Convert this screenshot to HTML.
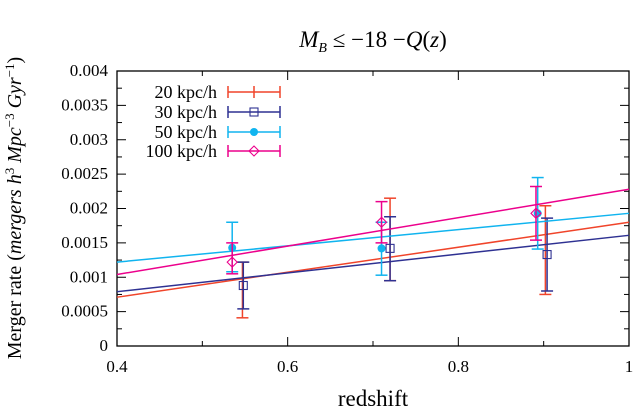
<!DOCTYPE html>
<html><head><meta charset="utf-8"><style>
body{margin:0;background:#fff}
svg{display:block;font-family:"Liberation Serif",serif}
</style></head><body>
<svg id="c" width="634" height="419"></svg>
<script>
const seriesNames=["20 kpc/h","30 kpc/h","50 kpc/h","100 kpc/h"];
const colors=["#f0442a","#2e3192","#10b4ef","#ec008c"];
const markers=["plus","square","circle","diamond"];
const zVals=[[0.547,0.72,0.902],[0.548,0.72,0.904],[0.535,0.71,0.893],[0.535,0.71,0.891]];
const rates=[[0.00081,0.00155,0.0014],[0.00088,0.00142,0.00133],[0.00143,0.00142,0.00193],[0.00122,0.0018,0.00193]];
const errLo=[[0.00041,0.00095,0.00075],[0.00054,0.00095,0.0008],[0.00108,0.00103,0.00141],[0.00105,0.0015,0.00154]];
const errHi=[[0.00122,0.00215,0.00204],[0.00122,0.00188,0.00186],[0.0018,0.0018,0.00245],[0.0015,0.0021,0.00232]];
const fitStart=[0.00071,0.00079,0.00122,0.00104];
const fitEnd=[0.0018,0.00161,0.00193,0.00228];
const xTicks=[0.4,0.6,0.8,1];
const yTicks=[0,0.0005,0.001,0.0015,0.002,0.0025,0.003,0.0035,0.004];
const yLabels=["0","0.0005","0.001","0.0015","0.002","0.0025","0.003","0.0035","0.004"];
const X0=117,X1=629,Y0=346,Y1=71;
const sx=v=>X0+(v-0.4)/0.6*(X1-X0);
const sy=v=>Y0-v/0.004*(Y0-Y1);
const svg=document.getElementById('c');
const NS="http://www.w3.org/2000/svg";
function mk(t,a,p){const e=document.createElementNS(NS,t);for(const k in a)e.setAttribute(k,a[k]);(p||svg).appendChild(e);return e;}
let f=mk('rect',{x:X0,y:Y1,width:X1-X0,height:Y0-Y1,fill:'none',stroke:'#000','stroke-width':1.3});


for(let v=0.4;v<=1.0001;v+=0.1){const x=sx(v);const L=Math.abs(v*10-Math.round(v*5)*2)<0.01?9:5;
mk('line',{x1:x,x2:x,y1:Y0,y2:Y0-L,stroke:'#000'});mk('line',{x1:x,x2:x,y1:Y1,y2:Y1+L,stroke:'#000'});}
xTicks.forEach(v=>{const t=mk('text',{x:sx(v),y:Y0+26,'text-anchor':'middle','font-size':17});t.textContent=String(v);

});
for(let i=0;i<=16;i++){const v=i*0.00025,y=sy(v),L=i%2?5:9;
mk('line',{x1:X0,x2:X0+L,y1:y,y2:y,stroke:'#000'});mk('line',{x1:X1,x2:X1-L,y1:y,y2:y,stroke:'#000'});}
yTicks.forEach((v,i)=>{const t=mk('text',{x:X0-9,y:sy(v)+5,'text-anchor':'end','font-size':17});t.textContent=yLabels[i];

});
let t=mk('text',{x:373,y:406,'text-anchor':'middle','font-size':23});t.textContent="redshift";


t=mk('text',{x:0,y:0,'text-anchor':'middle','font-size':20,transform:'translate(21,208) rotate(-90)'});
t.innerHTML='Merger rate (<tspan font-style="italic">mergers h</tspan><tspan font-size="13" dy="-7">3</tspan><tspan dy="7" font-style="italic"> Mpc</tspan><tspan font-size="13" dy="-7">−3</tspan><tspan dy="7" font-style="italic"> Gyr</tspan><tspan font-size="13" dy="-7">−1</tspan><tspan dy="7">)</tspan>';


t=mk('text',{x:373,y:47,'text-anchor':'middle','font-size':23});
t.innerHTML='<tspan font-style="italic">M</tspan><tspan font-style="italic" font-size="14" dy="5">B</tspan><tspan dy="-5"> ≤ −18 −</tspan><tspan font-style="italic">Q</tspan>(<tspan font-style="italic">z</tspan>)';


function marker(type,x,y,c,g){
 if(type==='square')mk('rect',{x:x-4,y:y-4,width:8,height:8,fill:'none',stroke:c,'stroke-width':1.1},g);
 else if(type==='circle')mk('circle',{cx:x,cy:y,r:4,fill:c},g);
 else if(type==='diamond')mk('polygon',{points:`${x},${y-5} ${x+5},${y} ${x},${y+5} ${x-5},${y}`,fill:'none',stroke:c,'stroke-width':1.1},g);
}
seriesNames.forEach((n,s)=>{const c=colors[s];
 const g=mk('g',{});
 
 
 mk('line',{x1:sx(0.4),x2:sx(1),y1:sy(fitStart[s]),y2:sy(fitEnd[s]),stroke:c,'stroke-width':1.5},g);
 zVals[s].forEach((z,i)=>{const x=sx(z);
  mk('line',{x1:x,x2:x,y1:sy(errLo[s][i]),y2:sy(errHi[s][i]),stroke:c,'stroke-width':1.5},g);
  mk('line',{x1:x-6,x2:x+6,y1:sy(errLo[s][i]),y2:sy(errLo[s][i]),stroke:c,'stroke-width':1.5},g);
  mk('line',{x1:x-6,x2:x+6,y1:sy(errHi[s][i]),y2:sy(errHi[s][i]),stroke:c,'stroke-width':1.5},g);
  marker(markers[s],x,sy(rates[s][i]),c,g);});
 const ly=[92,112,132,151][s];
 const lg=mk('g',{});
 
 
 const tt=mk('text',{x:217,y:ly+6,'text-anchor':'end','font-size':18},lg);tt.textContent=n;
 mk('line',{x1:228,x2:280,y1:ly,y2:ly,stroke:c,'stroke-width':1.5},lg);
 mk('line',{x1:228,x2:228,y1:ly-6,y2:ly+6,stroke:c,'stroke-width':1.5},lg);
 mk('line',{x1:280,x2:280,y1:ly-6,y2:ly+6,stroke:c,'stroke-width':1.5},lg);
 if(s===0)mk('line',{x1:254,x2:254,y1:ly-6,y2:ly+6,stroke:c,'stroke-width':1.5},lg);
 marker(markers[s],254,ly,c,lg);
});
</script>
</body></html>
